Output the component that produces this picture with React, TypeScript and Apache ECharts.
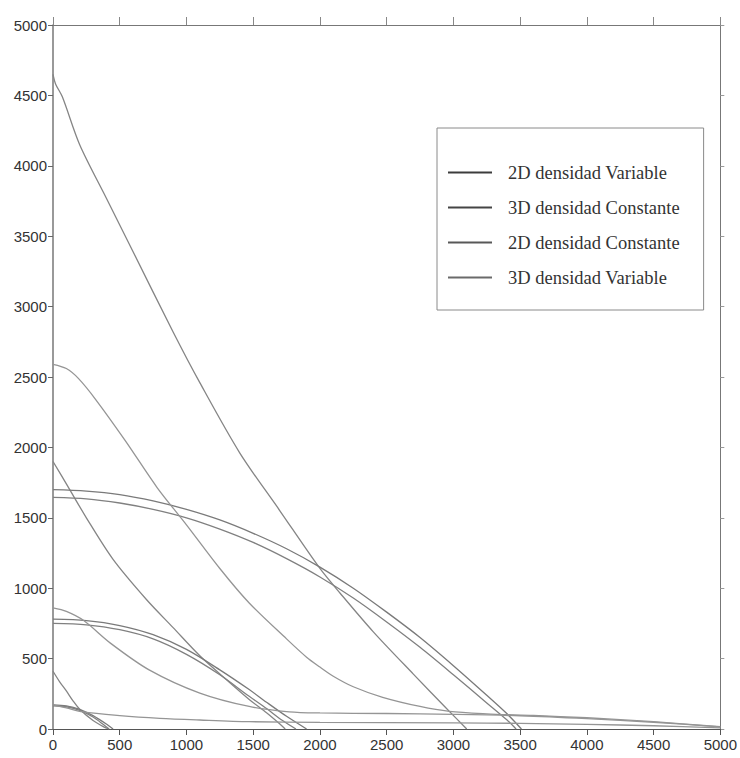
import { useEffect, useRef } from "react";
import * as echarts from "echarts";

type Pt = [number, number];

// Series names (legend order)
const NAME_2D_VAR = "2D densidad Variable";
const NAME_3D_CONST = "3D densidad Constante";
const NAME_2D_CONST = "2D densidad Constante";
const NAME_3D_VAR = "3D densidad Variable";

// --- Large case ---
const var2DLarge: Pt[] = [
  [0, 4650], [20, 4580], [70, 4490], [200, 4150], [400, 3770], [600, 3390],
  [900, 2820], [1100, 2460], [1400, 1960], [1700, 1550], [2000, 1140],
  [2150, 966], [2400, 690], [2700, 390], [2965, 130], [3100, 0],
];
const var3DLarge: Pt[] = [
  [0, 2590], [100, 2560], [190, 2490], [320, 2340], [540, 2050], [780, 1715],
  [1000, 1450], [1250, 1140], [1470, 895], [1750, 640], [1900, 510],
  [2000, 440], [2100, 375], [2250, 300], [2470, 225], [2750, 160],
  [2970, 125], [3250, 108], [3600, 96], [4000, 80], [4500, 52], [5000, 16],
];
const const3DLarge: Pt[] = [
  [0, 1700], [250, 1690], [500, 1665], [750, 1620], [1000, 1560], [1250, 1485],
  [1500, 1390], [1750, 1280], [2000, 1150], [2250, 1000], [2500, 830],
  [2750, 650], [3000, 450], [3250, 240], [3400, 110], [3510, 0],
];
const const2DLarge: Pt[] = [
  [0, 1645], [250, 1635], [500, 1605], [750, 1560], [1000, 1500], [1250, 1420],
  [1500, 1325], [1750, 1210], [2000, 1080], [2250, 930], [2500, 760],
  [2750, 580], [3000, 385], [3250, 185], [3400, 65], [3470, 0],
];

// --- Medium case ---
const var2DMedium: Pt[] = [
  [0, 1900], [110, 1725], [250, 1500], [450, 1205], [700, 920], [900, 720],
  [1100, 520], [1300, 350], [1470, 210], [1600, 115], [1700, 35], [1740, 0],
];
const var3DMedium: Pt[] = [
  [0, 860], [100, 835], [230, 770], [430, 610], [720, 420], [1100, 255],
  [1470, 160], [1770, 122], [2000, 114], [2500, 110], [3000, 104],
  [3500, 94], [4000, 74], [4500, 48], [5000, 15],
];
const const3DMedium: Pt[] = [
  [0, 780], [250, 770], [500, 735], [750, 670], [1000, 565], [1250, 420],
  [1470, 280], [1600, 190], [1750, 90], [1900, 0],
];
const const2DMedium: Pt[] = [
  [0, 750], [250, 740], [500, 705], [750, 640], [1000, 530], [1250, 385],
  [1470, 232], [1600, 145], [1720, 60], [1820, 0],
];

// --- Small case ---
const var2DSmall: Pt[] = [
  [0, 410], [50, 335], [100, 270], [150, 200], [200, 140], [300, 60],
  [380, 15], [420, 0],
];
const var3DSmall: Pt[] = [
  [0, 172], [100, 150], [224, 121], [500, 95], [800, 76], [1100, 64],
  [1470, 52], [2000, 47], [3000, 44], [3500, 40], [4000, 33], [4500, 23],
  [5000, 8],
];
const const3DSmall: Pt[] = [
  [0, 172], [100, 165], [200, 140], [300, 95], [400, 35], [450, 0],
];
const const2DSmall: Pt[] = [
  [0, 165], [100, 158], [200, 133], [300, 85], [380, 30], [420, 0],
];

const groups = [
  { name: NAME_2D_VAR, color: "#858585", legend: "#3c3c3c", curves: [var2DLarge, var2DMedium, var2DSmall] },
  { name: NAME_3D_CONST, color: "#7a7a7a", legend: "#454545", curves: [const3DLarge, const3DMedium, const3DSmall] },
  { name: NAME_2D_CONST, color: "#808080", legend: "#585858", curves: [const2DLarge, const2DMedium, const2DSmall] },
  { name: NAME_3D_VAR, color: "#959595", legend: "#6a6a6a", curves: [var3DLarge, var3DMedium, var3DSmall] },
];

export default function App() {
  const ref = useRef<HTMLDivElement>(null);

  useEffect(() => {
    if (!ref.current) return;
    const chart = echarts.init(ref.current, null, { renderer: "svg" });

    const series: any[] = [];
    groups.forEach((g) => {
      g.curves.forEach((pts) => {
        series.push({
          type: "line",
          name: g.name,
          xAxisIndex: 0,
          yAxisIndex: 0,
          data: pts,
          symbol: "none",
          showSymbol: false,
          smooth: 0.3,
          silent: true,
          itemStyle: { color: g.color },
          lineStyle: { color: g.color, width: 1.3 },
        });
      });
    });

    const plain = (v: number) => String(v);
    const axisText = { fontFamily: "Liberation Sans", fontSize: 15, color: "#333", formatter: plain };

    chart.setOption({
      animation: false,
      backgroundColor: "#ffffff",
      grid: { left: 53, right: 18, top: 25, bottom: 29, containLabel: false },
      xAxis: [
        {
          type: "value", min: 0, max: 5000, interval: 500, position: "bottom",
          axisLine: { show: true, onZero: false, lineStyle: { color: "#555", width: 1.2 } },
          axisTick: { show: true, length: 6, lineStyle: { color: "#555" } },
          axisLabel: { ...axisText, margin: 8 },
          splitLine: { show: false },
        },
        {
          type: "value", min: 0, max: 5000, interval: 500, position: "top",
          axisLine: { show: true, onZero: false, lineStyle: { color: "#777", width: 1 } },
          axisTick: { show: true, length: 8, lineStyle: { color: "#888" } },
          axisLabel: { show: false },
          splitLine: { show: false },
        },
      ],
      yAxis: [
        {
          type: "value", min: 0, max: 5000, interval: 500, position: "left",
          axisLine: { show: true, onZero: false, lineStyle: { color: "#777", width: 1.5 } },
          axisTick: { show: true, length: 5, lineStyle: { color: "#666" } },
          axisLabel: { ...axisText, margin: 6 },
          splitLine: { show: false },
        },
        {
          type: "value", min: 0, max: 5000, interval: 500, position: "right",
          axisLine: { show: true, onZero: false, lineStyle: { color: "#777", width: 1 } },
          axisTick: { show: true, length: 4, lineStyle: { color: "#999" } },
          axisLabel: { show: false },
          splitLine: { show: false },
        },
      ],
      legend: {
        show: true,
        orient: "vertical",
        left: 437,
        top: 128,
        padding: [34, 24, 22, 11],
        itemGap: 14,
        itemWidth: 44,
        itemHeight: 2,
        icon: "rect",
        selectedMode: false,
        backgroundColor: "#ffffff",
        borderColor: "#8a8a8a",
        borderWidth: 1,
        textStyle: {
          fontFamily: "Liberation Serif",
          fontSize: 18.5,
          color: "#333",
          lineHeight: 21,
          padding: [0, 0, 0, 11],
        },
        data: groups.map((g) => ({ name: g.name, itemStyle: { color: g.legend } })),
      },
      series,
    });

    return () => chart.dispose();
  }, []);

  return (
    <div
      ref={ref}
      style={{ position: "absolute", left: 0, top: 0, width: 740, height: 758, background: "#fff" }}
    />
  );
}
